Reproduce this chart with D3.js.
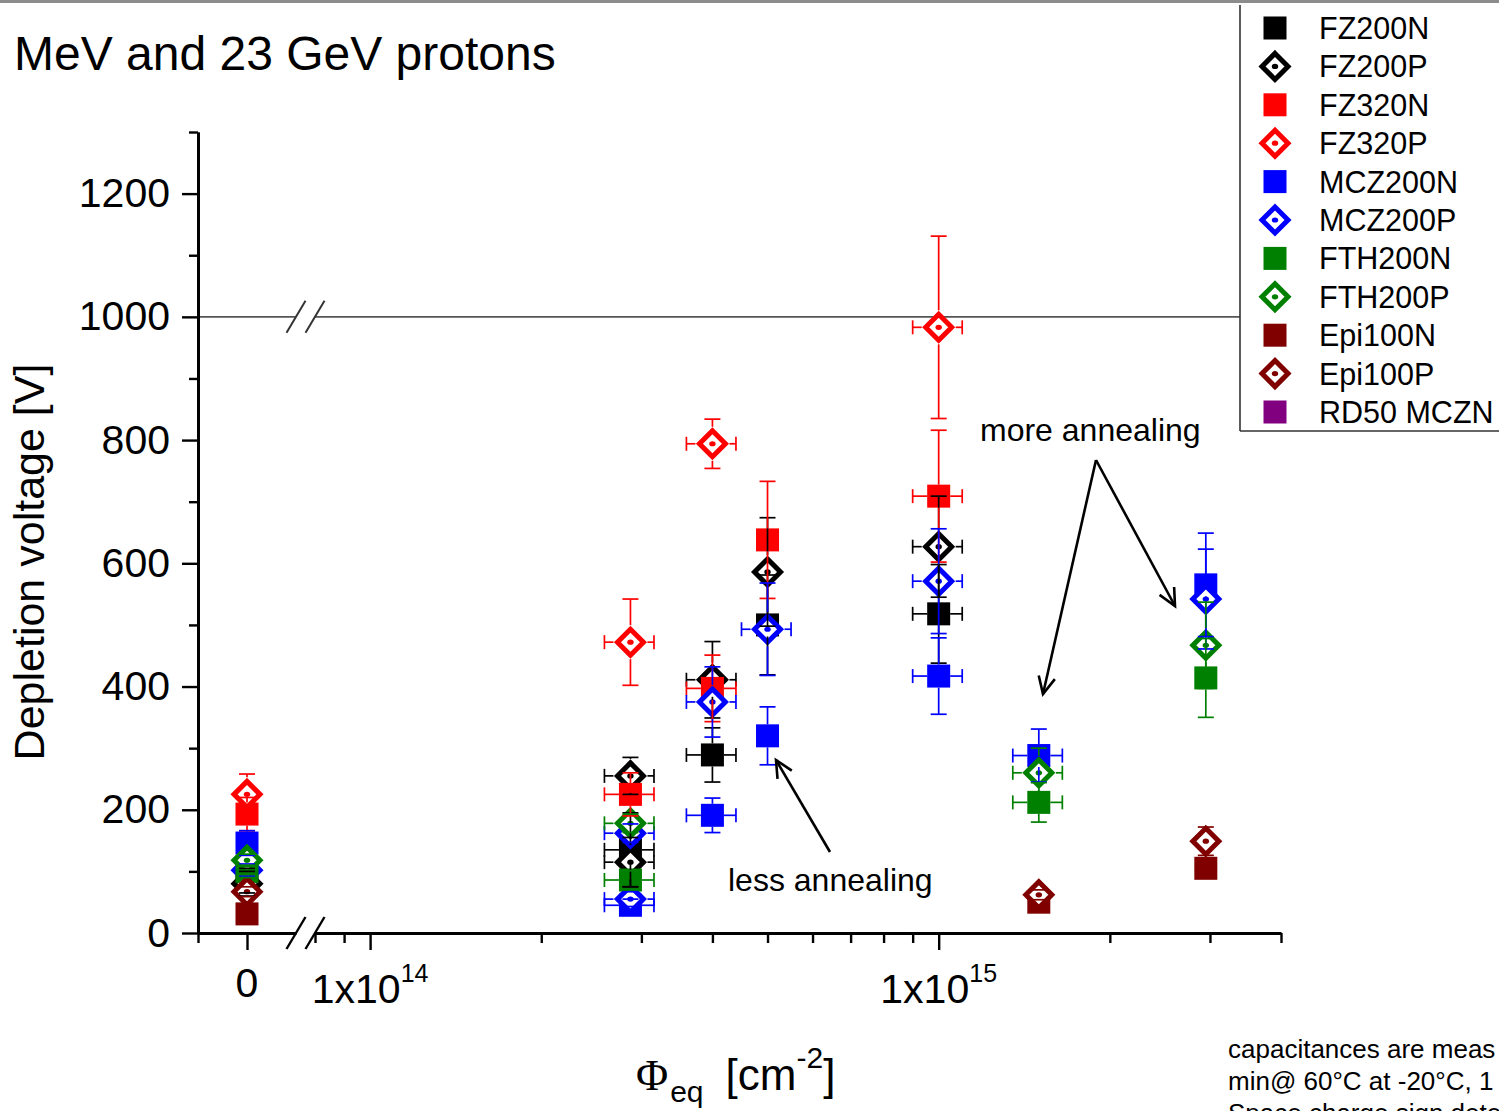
<!DOCTYPE html>
<html>
<head>
<meta charset="utf-8">
<script src="https://cdn.jsdelivr.net/npm/d3@7/dist/d3.min.js"></script>
<style>
  body { margin: 0; background: #fff; }
  svg { display: block; }
  text { font-family: "Liberation Sans", Arial, sans-serif; fill: #000; }
</style>
</head>
<body>
<svg></svg>
<script>
var width = 1499;
var height = 1111;

// each point: [fluence cm^-2, depletion voltage V, voltage error V, fluence error shown (1/0)]
var FZ200N  = [[0, 85, 20, 0], [2.87e14, 135, 60, 1], [4e14, 289, 44, 1], [5e14, 500, 81, 0], [1e15, 518, 80, 1]];
var FZ200P  = [[0, 80, 20, 0], [2.87e14, 255, 30, 1], [2.87e14, 115, 40, 1], [4e14, 411, 62, 1], [5e14, 586, 88, 0], [1e15, 627, 82, 1]];
var FZ320N  = [[0, 193, 27, 0], [2.87e14, 225, 35, 1], [4e14, 397, 54, 1], [5e14, 638, 95, 0], [1e15, 709, 107, 1]];
var FZ320P  = [[0, 225, 33, 0], [2.87e14, 472, 70, 1], [4e14, 794, 40, 1], [1e15, 983, 148, 1]];
var MCZ200N = [[0, 146, 20, 0], [2.87e14, 45, 10, 1], [4e14, 191, 28, 1], [5e14, 320, 47, 0], [1e15, 417, 62, 1], [1.5e15, 288, 43, 1], [2.95e15, 565, 84, 0]];
var MCZ200P = [[0, 102, 10, 0], [2.87e14, 162, 15, 1], [2.87e14, 55, 12, 1], [4e14, 375, 57, 1], [5e14, 493, 75, 1], [1e15, 571, 85, 1], [2.95e15, 542, 81, 0]];
var FTH200N = [[0, 100, 10, 0], [2.87e14, 86, 15, 1], [1.5e15, 212, 32, 1], [2.95e15, 414, 64, 0]];
var FTH200P = [[0, 118, 10, 0], [2.87e14, 178, 15, 1], [1.5e15, 260, 40, 1], [2.95e15, 467, 70, 0]];
var Epi100N = [[0, 31, 0, 0], [1.5e15, 50, 0, 0], [2.95e15, 105, 10, 0]];
var Epi100P = [[0, 67, 8, 0], [1.5e15, 62, 8, 0], [2.95e15, 149, 23, 0]];
var RD50MCZN = [];

var seriesNames  = ["FZ200N", "FZ200P", "FZ320N", "FZ320P", "MCZ200N", "MCZ200P", "FTH200N", "FTH200P", "Epi100N", "Epi100P", "RD50 MCZN"];
var seriesData   = [FZ200N, FZ200P, FZ320N, FZ320P, MCZ200N, MCZ200P, FTH200N, FTH200P, Epi100N, Epi100P, RD50MCZN];
var seriesColors = ["#000000", "#000000", "#ff0000", "#ff0000", "#0000ff", "#0000ff", "#008000", "#008000", "#800000", "#800000", "#800080"];
var seriesShapes = ["square", "diamond", "square", "diamond", "square", "diamond", "square", "diamond", "square", "diamond", "square"];

var yMajorTicks = [0, 200, 400, 600, 800, 1000, 1200];
var yMinorTicks = [100, 300, 500, 700, 900, 1100, 1300];
var xMajorTicks = [1e14, 1e15];
var xMinorTicks = [8e13, 9e13, 2e14, 3e14, 4e14, 5e14, 6e14, 7e14, 8e14, 9e14, 2e15, 3e15, 4e15];
var xMajorLabels = ["14", "15"];   // exponents of 1x10^n
var xFluenceErr = 0.1;             // relative fluence error

var svg = d3.select("svg").attr("width", width).attr("height", height);
var font = "Liberation Sans, Arial, sans-serif";

// scales: y linear, x broken into a "zero" piece and a log piece
var y = d3.scaleLinear().domain([0, 1300]).range([933, 132]);
var xZero = d3.scaleLinear().domain([-1, 1]).range([198, 296]);
var xLog = d3.scaleLog().domain([8e13, 4e15]).range([315, 1281]);
function xPos(f) { return f === 0 ? xZero(0) : xLog(f); }

// grey strip at the very top
svg.append("rect").attr("x", 0).attr("y", 0).attr("width", width).attr("height", 3).attr("fill", "#8c8c8c");

svg.append("text")
  .attr("x", 14).attr("y", 70)
  .attr("font-size", 48)
  .text("MeV and 23 GeV protons");

// line at 1000 V with break marks
var breakA = 296, breakB = 315;
svg.append("line").attr("x1", 198).attr("x2", breakA).attr("y1", y(1000)).attr("y2", y(1000))
  .attr("stroke", "#555").attr("stroke-width", 1.6);
svg.append("line").attr("x1", breakB).attr("x2", 1240).attr("y1", y(1000)).attr("y2", y(1000))
  .attr("stroke", "#555").attr("stroke-width", 1.6);

function breakMarks(yy, col, sw) {
  [breakA, breakB].forEach(function(bx) {
    svg.append("line")
      .attr("x1", bx - 9.5).attr("y1", yy + 16)
      .attr("x2", bx + 9.5).attr("y2", yy - 16)
      .attr("stroke", col).attr("stroke-width", sw);
  });
}
breakMarks(y(1000), "#333", 2);

// ---- axes
function styleAxis(g) {
  g.select(".domain").attr("stroke", "#000").attr("stroke-width", 2.8);
  g.selectAll(".tick line").attr("stroke", "#000").attr("stroke-width", 2.4);
  g.selectAll(".tick text").attr("font-size", 41).attr("font-family", font).attr("fill", "#000");
}

var yAxisG = svg.append("g").attr("transform", "translate(198,0)")
  .call(d3.axisLeft(y).tickValues(yMajorTicks).tickSize(16).tickPadding(12).tickSizeOuter(0).tickFormat(d3.format("d")));
styleAxis(yAxisG);
var yMinorG = svg.append("g").attr("transform", "translate(198,0)")
  .call(d3.axisLeft(y).tickValues(yMinorTicks).tickSize(9).tickSizeOuter(0).tickFormat(""));
styleAxis(yMinorG);

var x0 = y(0);
var zeroAxis = svg.append("g").attr("transform", "translate(0," + x0 + ")")
  .call(d3.axisBottom(xZero).tickValues([0]).tickSize(17).tickSizeOuter(0).tickFormat(""));
styleAxis(zeroAxis);
var zeroMinor = svg.append("g").attr("transform", "translate(0," + x0 + ")")
  .call(d3.axisBottom(xZero).tickValues([-1]).tickSize(10).tickSizeOuter(0).tickFormat(""));
styleAxis(zeroMinor);
zeroMinor.select(".domain").remove();

var logAxis = svg.append("g").attr("transform", "translate(0," + x0 + ")")
  .call(d3.axisBottom(xLog).tickValues(xMajorTicks).tickSize(17).tickSizeOuter(0).tickFormat(""));
styleAxis(logAxis);
var logMinor = svg.append("g").attr("transform", "translate(0," + x0 + ")")
  .call(d3.axisBottom(xLog).tickValues(xMinorTicks).tickSize(10).tickSizeOuter(0).tickFormat(""));
styleAxis(logMinor);
logMinor.select(".domain").remove();

breakMarks(x0, "#000", 2.4);

// x tick labels
svg.append("text").attr("x", xZero(0)).attr("y", 997).attr("text-anchor", "middle")
  .attr("font-size", 41).text("0");
xMajorTicks.forEach(function(t, i) {
  var tx = svg.append("text").attr("x", xLog(t)).attr("y", 1003).attr("text-anchor", "middle")
    .attr("font-size", 41).text("1x10");
  tx.append("tspan").attr("dy", -21).attr("font-size", 25).text(xMajorLabels[i]);
});

// axis titles
svg.append("text")
  .attr("transform", "translate(44,562) rotate(-90)")
  .attr("text-anchor", "middle")
  .attr("font-size", 43)
  .text("Depletion voltage [V]");

var xt = svg.append("text").attr("x", 636).attr("y", 1090).attr("font-size", 44);
xt.append("tspan").attr("font-family", "Liberation Serif, Times New Roman, serif").text("\u03A6");
xt.append("tspan").attr("font-size", 30).attr("dy", 12).attr("dx", 2).text("eq");
xt.append("tspan").attr("dy", -12).attr("dx", 22).text("[cm");
xt.append("tspan").attr("font-size", 30).attr("dy", -22).text("-2");
xt.append("tspan").attr("dy", 22).text("]");

// ---- markers
var sqSize = 23, dmHalf = 13;
function drawMarker(g, shape, color, cx, cy) {
  if (shape === "square") {
    g.append("rect").attr("x", cx - sqSize / 2).attr("y", cy - sqSize / 2)
      .attr("width", sqSize).attr("height", sqSize).attr("fill", color);
  } else {
    g.append("path")
      .attr("d", "M" + cx + "," + (cy - dmHalf) + "L" + (cx + dmHalf) + "," + cy + "L" + cx + "," + (cy + dmHalf) + "L" + (cx - dmHalf) + "," + cy + "Z")
      .attr("fill", "#fff").attr("stroke", color).attr("stroke-width", 5);
    g.append("ellipse").attr("cx", cx).attr("cy", cy).attr("rx", 3.2).attr("ry", 2.6).attr("fill", color);
  }
}

var markG = svg.append("g");
seriesData.forEach(function(data, i) {
  data.forEach(function(d) {
    drawMarker(markG, seriesShapes[i], seriesColors[i], xPos(d[0]), y(d[1]));
  });
});

// ---- error bars (on top of every marker, with a gap round their own symbol)
var segs = [];
seriesData.forEach(function(data, i) {
  var gap = seriesShapes[i] === "diamond" ? 17 : 11.5;
  var col = seriesColors[i];
  data.forEach(function(d) {
    var cx = xPos(d[0]), cy = y(d[1]);
    if (d[2] > 0) {
      var yt = y(d[1] + d[2]), yb = y(d[1] - d[2]);
      if (cy - yt > gap) segs.push([cx, cy - gap, cx, yt, col]);
      segs.push([cx - 8, yt, cx + 8, yt, col]);
      if (yb - cy > gap) segs.push([cx, cy + gap, cx, yb, col]);
      segs.push([cx - 8, yb, cx + 8, yb, col]);
    }
    if (d[3]) {
      var xl = xLog(d[0] * (1 - xFluenceErr)), xr = xLog(d[0] * (1 + xFluenceErr));
      segs.push([cx - gap, cy, xl, cy, col]);
      segs.push([xl, cy - 7, xl, cy + 7, col]);
      segs.push([cx + gap, cy, xr, cy, col]);
      segs.push([xr, cy - 7, xr, cy + 7, col]);
    }
  });
});

svg.append("g").selectAll("line")
  .data(segs)
  .enter()
  .append("line")
    .attr("x1", d => d[0]).attr("y1", d => d[1])
    .attr("x2", d => d[2]).attr("y2", d => d[3])
    .attr("stroke", d => d[4])
    .attr("stroke-width", 1.7);

// ---- legend
var legendG = svg.append("g");
legendG.append("line").attr("x1", 1240).attr("x2", 1240).attr("y1", 5).attr("y2", 431)
  .attr("stroke", "#333").attr("stroke-width", 1.6);
legendG.append("line").attr("x1", 1240).attr("x2", width).attr("y1", 431).attr("y2", 431)
  .attr("stroke", "#333").attr("stroke-width", 1.6);
seriesNames.forEach(function(name, i) {
  var ly = 28 + i * 38.4;
  drawMarker(legendG, seriesShapes[i], seriesColors[i], 1275, ly);
  legendG.append("text").attr("x", 1319).attr("y", ly + 11).attr("font-size", 30.5).text(name);
});

// ---- annotations
function arrow(x1, y1, x2, y2) {
  var a = Math.atan2(y2 - y1, x2 - x1), L = 19, w = 0.45;
  svg.append("line").attr("x1", x1).attr("y1", y1).attr("x2", x2).attr("y2", y2)
    .attr("stroke", "#000").attr("stroke-width", 2.6);
  svg.append("path")
    .attr("d", "M" + (x2 - L * Math.cos(a - w)) + "," + (y2 - L * Math.sin(a - w)) +
               "L" + x2 + "," + y2 +
               "L" + (x2 - L * Math.cos(a + w)) + "," + (y2 - L * Math.sin(a + w)))
    .attr("fill", "none").attr("stroke", "#000").attr("stroke-width", 2.6);
}

svg.append("text").attr("x", 980).attr("y", 441).attr("font-size", 32).text("more annealing");
arrow(1096, 460, 1043, 694);
arrow(1096, 460, 1175, 606);

svg.append("text").attr("x", 728).attr("y", 891).attr("font-size", 32).text("less annealing");
arrow(830, 852, 776, 760);

// note, cut by the page edge as in the slide
var notes = ["capacitances are meas", "min@ 60\u00B0C at -20\u00B0C, 1", "Space charge sign dete"];
notes.forEach(function(t, i) {
  svg.append("text").attr("x", 1228).attr("y", 1058 + i * 32).attr("font-size", 26).text(t);
});
</script>
</body>
</html>
